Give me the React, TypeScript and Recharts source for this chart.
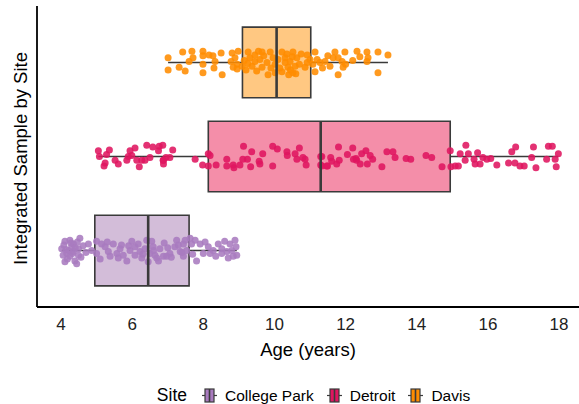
import React from "react";
import {
  ScatterChart,
  Scatter,
  XAxis,
  YAxis,
  ReferenceArea,
  ReferenceLine,
} from "recharts";

// site order from bottom to top
const SITES = ["College Park", "Detroit", "Davis"];
const POINT_COLORS = ["#a97bbf", "#df1660", "#ff8c00"];
const BOX_FILLS = ["#d3bdd9", "#f48ea9", "#ffc882"];

// boxplot stats per site (years)
const WHISKER_LOW = [4.02, 5.05, 7.01];
const Q1 = [4.95, 8.14, 9.1];
const MEDIAN = [6.45, 11.3, 10.06];
const Q3 = [7.6, 14.94, 11.02];
const WHISKER_HIGH = [8.94, 17.98, 13.19];

const X_TICKS = [4, 6, 8, 10, 12, 14, 16, 18];

// [age, vertical jitter]
const collegeParkPoints: [number, number][] = [
  [4.02, 0.02], [4.11, 0.1], [4.16, -0.03], [4.11, -0.12], [4.25, 0.11], [4.3, 0.04],
  [4.35, -0.01], [4.25, -0.06], [4.39, -0.11], [4.49, -0.05], [4.53, 0.13], [4.49, 0.02],
  [4.35, 0.07], [4.21, 0.0], [4.44, -0.14], [4.06, -0.05], [4.77, 0.07], [4.86, 0.0],
  [5.0, -0.03], [5.0, 0.1], [5.14, 0.07], [5.24, 0.04], [5.33, -0.01], [5.38, -0.06],
  [5.47, 0.07], [5.57, -0.03], [5.61, -0.08], [5.66, 0.02], [5.75, -0.05], [5.85, -0.11],
  [5.94, 0.0], [5.99, 0.1], [6.08, -0.05], [6.08, 0.04], [6.17, 0.07], [6.22, -0.01],
  [6.27, -0.08], [6.36, 0.02], [6.41, 0.11], [6.5, -0.03], [6.45, -0.12], [6.55, 0.1],
  [6.59, 0.04], [6.64, -0.05], [6.74, -0.11], [6.78, 0.02], [6.88, -0.06], [6.97, -0.06],
  [6.69, -0.08], [7.2, 0.04], [7.25, 0.11], [7.35, -0.01], [7.44, -0.06], [7.44, 0.07],
  [7.49, 0.11], [7.53, 0.0], [7.63, 0.13], [7.77, 0.11], [7.81, -0.11], [7.91, 0.07],
  [8.0, -0.03], [8.14, 0.04], [8.19, -0.03], [8.28, 0.0], [8.42, 0.07], [8.52, 0.02],
  [8.52, -0.03], [8.66, -0.01], [8.75, 0.07], [8.8, 0.0], [8.89, 0.11], [8.92, 0.04],
  [8.94, -0.05], [8.84, -0.06], [7.67, 0.07], [7.06, -0.03], [4.08, 0.06], [4.18, -0.09],
  [4.28, 0.08], [4.32, -0.03], [4.4, 0.03], [4.14, 0.01], [4.46, 0.09], [4.56, -0.07],
  [4.62, 0.05], [4.7, -0.02], [5.1, -0.09], [5.3, 0.09], [5.7, 0.06], [5.9, 0.05],
  [6.3, -0.04], [6.6, 0.0], [6.9, 0.08], [7.0, 0.03], [7.1, -0.07], [7.3, 0.06],
  [7.4, -0.02], [7.7, -0.04], [8.05, 0.09], [8.35, -0.06], [8.6, 0.1], [8.7, -0.08],
];

const detroitPoints: [number, number][] = [
  [5.05, 0.06], [5.08, 0.0], [5.21, -0.1], [5.24, -0.07], [5.28, 0.02], [5.36, 0.07],
  [5.52, -0.04], [5.61, -0.08], [5.85, -0.04], [5.89, 0.0], [5.94, 0.06], [6.08, 0.09],
  [5.99, 0.01], [6.13, -0.04], [6.2, -0.11], [6.27, -0.04], [6.36, -0.04], [6.41, 0.12],
  [6.5, -0.01], [6.58, 0.1], [6.74, 0.06], [6.76, 0.11], [6.86, 0.12], [6.88, -0.04],
  [6.88, -0.08], [6.95, -0.01], [7.06, -0.01], [7.14, 0.07], [6.87, -0.04], [7.77, -0.03],
  [7.98, -0.09], [8.14, 0.03], [8.19, 0.01], [8.14, -0.1], [8.36, -0.09], [8.66, -0.03],
  [8.66, -0.1], [8.84, -0.09], [8.86, -0.12], [9.03, -0.09], [9.11, -0.03], [9.13, 0.11],
  [9.24, -0.03], [9.33, -0.11], [9.36, 0.05], [9.57, -0.05], [9.59, -0.08], [9.67, 0.03],
  [9.95, 0.11], [9.95, -0.1], [10.08, 0.08], [10.35, 0.05], [10.36, 0.01], [10.58, 0.03],
  [10.7, 0.09], [10.63, -0.03], [10.8, -0.01], [10.86, -0.03], [10.89, -0.09], [11.3, 0.0],
  [11.3, -0.09], [11.49, -0.1], [11.33, 0.0], [11.33, -0.1], [11.47, -0.1], [11.58, -0.01],
  [11.61, -0.05], [11.75, -0.08], [11.8, 0.1], [11.82, -0.04], [12.05, 0.02], [12.2, 0.09],
  [12.22, -0.03], [12.29, -0.02], [12.31, -0.04], [12.41, -0.08], [12.45, 0.03], [12.57, 0.06],
  [12.61, -0.08], [12.69, 0.01], [12.76, -0.03], [13.02, -0.11], [13.16, 0.05], [13.33, 0.05],
  [13.39, -0.01], [13.7, -0.02], [13.83, -0.03], [14.26, 0.01], [14.42, -0.01], [14.71, -0.11],
  [14.94, 0.06], [14.96, -0.11], [15.08, -0.1], [15.17, -0.1], [15.22, 0.03], [15.36, -0.04],
  [15.38, 0.12], [15.45, 0.03], [15.61, -0.03], [15.64, -0.08], [15.71, 0.04], [15.78, -0.08],
  [15.86, -0.01], [15.97, -0.03], [16.08, -0.02], [16.25, -0.09], [16.58, -0.07], [16.67, 0.05],
  [16.76, -0.07], [16.78, 0.1], [16.9, -0.1], [17.02, -0.1], [17.23, -0.01], [17.28, 0.1],
  [17.35, -0.12], [17.7, 0.11], [17.81, 0.11], [17.65, -0.03], [17.89, -0.03], [17.92, -0.11],
  [17.98, 0.03],
];

const davisPoints: [number, number][] = [
  [7.01, 0.05], [7.01, -0.08], [7.42, 0.11], [7.68, 0.12], [7.71, 0.05], [7.6, 0.01],
  [7.32, -0.05], [7.49, -0.09], [7.99, 0.12], [7.99, 0.07], [8.16, 0.08], [8.27, 0.07],
  [8.5, 0.1], [8.33, 0.01], [7.99, -0.02], [7.99, -0.11], [8.3, -0.06], [8.53, -0.13],
  [8.81, 0.1], [8.98, 0.12], [8.89, 0.05], [8.78, 0.01], [8.95, -0.02], [8.84, -0.05],
  [8.95, -0.07], [9.09, -0.04], [9.26, 0.11], [9.31, 0.05], [9.45, 0.08], [9.65, 0.11],
  [9.88, 0.11], [9.45, 0.01], [9.59, 0.03], [9.79, 0.0], [9.37, -0.04], [9.65, -0.05],
  [9.96, 0.05], [10.02, -0.02], [9.82, -0.13], [10.02, -0.11], [10.21, 0.11], [10.1, 0.03],
  [10.3, 0.05], [10.52, 0.11], [10.44, 0.01], [10.58, -0.04], [10.38, -0.05], [10.52, -0.11],
  [10.21, -0.1], [10.63, 0.05], [10.92, 0.08], [10.92, 0.0], [10.86, -0.05], [11.14, 0.11],
  [11.2, 0.03], [11.14, -0.1], [11.28, 0.0], [11.42, 0.01], [11.56, -0.04], [11.7, 0.11],
  [11.65, 0.05], [11.79, 0.05], [11.98, 0.11], [11.9, 0.01], [11.93, -0.05], [11.79, -0.13],
  [12.32, 0.12], [12.6, 0.11], [12.63, 0.05], [12.6, 0.01], [12.91, 0.11], [13.19, 0.08],
  [12.91, -0.11], [11.0, 0.03], [11.08, -0.02], [9.15, 0.02], [9.2, -0.08], [9.5, -0.09],
  [9.7, 0.07], [9.9, -0.06], [10.15, -0.06], [10.35, 0.09], [10.45, -0.08], [10.5, 0.06],
  [10.6, -0.12], [10.7, -0.02], [10.75, 0.09], [10.4, -0.13], [10.3, 0.0], [9.55, 0.12],
  [9.25, -0.01], [12.2, 0.02], [12.4, 0.06], [12.0, -0.02], [11.5, 0.07], [11.35, -0.06],
];

const ALL_POINTS = [collegeParkPoints, detroitPoints, davisPoints];

const FONT = "'Liberation Sans', Arial, sans-serif";
const EDGE = "#3a3a3a";
const BOX_HALF = 0.375;

function LegendKey({ fill }: { fill: string }) {
  return (
    <svg width={17} height={17} style={{ display: "block" }}>
      <line x1={1} y1={8.5} x2={16} y2={8.5} stroke={EDGE} strokeWidth={1.2} />
      <rect x={4} y={2} width={9} height={13} fill={fill} stroke={EDGE} strokeWidth={1.2} />
      <line x1={8.5} y1={2} x2={8.5} y2={15} stroke={EDGE} strokeWidth={1.6} />
    </svg>
  );
}

export default function App() {
  return (
    <div style={{ position: "absolute", left: 0, top: 0, width: 579, height: 404, fontFamily: FONT }}>
      <ScatterChart width={579} height={404} margin={{ top: 6, right: 0, bottom: 48, left: 0 }}>
        <XAxis
          type="number"
          dataKey="x"
          domain={[3.325, 18.56]}
          allowDataOverflow
          ticks={X_TICKS}
          tickLine={false}
          tickMargin={5}
          axisLine={{ stroke: "#000", strokeWidth: 1.8 }}
          tick={{ fill: "#222", fontSize: 17, fontFamily: FONT }}
          height={49}
          label={{ value: "Age (years)", position: "insideBottom", offset: 0, fill: "#000", fontSize: 18.5, fontFamily: FONT }}
        />
        <YAxis
          type="number"
          dataKey="y"
          domain={[0.4, 3.6]}
          allowDataOverflow
          tick={false}
          tickLine={false}
          width={37}
          axisLine={{ stroke: "#000", strokeWidth: 1.8 }}
          label={{ value: "Integrated Sample by Site", angle: -90, position: "center", dx: 2, dy: 2, fill: "#000", fontSize: 18.5, fontFamily: FONT }}
        />

        {SITES.map((site, i) => (
          <ReferenceLine
            key={`wl-${site}`}
            segment={[{ x: WHISKER_LOW[i], y: i + 1 }, { x: Q1[i], y: i + 1 }]}
            stroke={EDGE}
            strokeWidth={1.6}
          />
        ))}
        {SITES.map((site, i) => (
          <ReferenceLine
            key={`wh-${site}`}
            segment={[{ x: Q3[i], y: i + 1 }, { x: WHISKER_HIGH[i], y: i + 1 }]}
            stroke={EDGE}
            strokeWidth={1.6}
          />
        ))}
        {SITES.map((site, i) => (
          <ReferenceArea
            key={`box-${site}`}
            x1={Q1[i]}
            x2={Q3[i]}
            y1={i + 1 - BOX_HALF}
            y2={i + 1 + BOX_HALF}
            fill={BOX_FILLS[i]}
            fillOpacity={1}
            stroke={EDGE}
            strokeWidth={1.6}
          />
        ))}

        {SITES.map((site, i) => (
          <Scatter
            key={`pts-${site}`}
            name={site}
            data={ALL_POINTS[i].map(([age, jit]) => ({ x: age, y: i + 1 + jit }))}
            isAnimationActive={false}
            shape={(p: any) => (
              <circle cx={p.cx} cy={p.cy} r={3.5} fill={POINT_COLORS[i]} fillOpacity={0.88} />
            )}
          />
        ))}

        {SITES.map((site, i) => (
          <ReferenceLine
            key={`med-${site}`}
            segment={[{ x: MEDIAN[i], y: i + 1 - BOX_HALF }, { x: MEDIAN[i], y: i + 1 + BOX_HALF }]}
            stroke={EDGE}
            strokeWidth={2.6}
            zIndex={700}
          />
        ))}
      </ScatterChart>

      <div
        style={{
          position: "absolute",
          top: 385,
          left: 0,
          width: 579,
          display: "flex",
          justifyContent: "center",
          alignItems: "center",
          paddingLeft: 60,
          boxSizing: "border-box",
          fontSize: 15.5,
          color: "#000",
        }}
      >
        <span style={{ fontSize: 17.5, marginRight: 14 }}>Site</span>
        {SITES.map((site, i) => (
          <div key={site} style={{ display: "flex", alignItems: "center", marginRight: 12 }}>
            <LegendKey fill={POINT_COLORS[i]} />
            <span style={{ marginLeft: 7 }}>{site}</span>
          </div>
        ))}
      </div>
    </div>
  );
}
